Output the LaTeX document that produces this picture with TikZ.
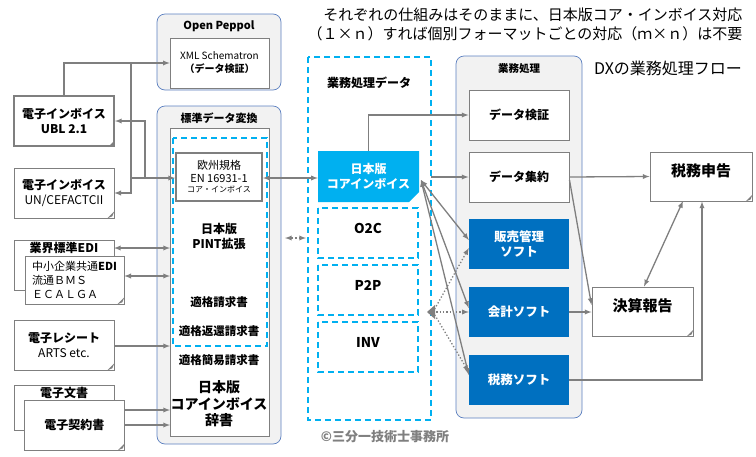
\documentclass[tikz,border=0pt]{standalone}
\usepackage{fontspec}
\setmainfont{Noto Sans CJK JP}
\usetikzlibrary{calc}
\definecolor{cyanbox}{HTML}{00B0F0}
\definecolor{bluebox}{HTML}{0070C0}
\definecolor{arrowgray}{HTML}{7F7F7F}
\definecolor{groupfill}{HTML}{F2F2F2}
\definecolor{groupline}{HTML}{5B7FC0}
\tikzset{
  group/.style={draw=groupline,fill=groupfill,rounded corners=8pt,line width=0.7pt},
  plain/.style={draw=arrowgray,fill=white,line width=1pt,minimum width=100pt,minimum height=50pt,inner sep=1pt,align=center,font=\bfseries\fontsize{12}{15}\selectfont},
  doc/.style={plain,line width=0.6pt},
  soft/.style={fill=bluebox,text=white,minimum width=100pt,minimum height=50pt,align=center,font=\bfseries\fontsize{12.5}{15}\selectfont},
  dbox/.style={draw=cyanbox,dashed,line width=1.3pt,dash pattern=on 6pt off 4pt},
  link/.style={draw=arrowgray,line width=1.3pt,-latex},
  both/.style={link,latex-latex},
  dots/.style={draw=arrowgray,line width=1.3pt,dotted},
  lbl/.style={font=\bfseries\fontsize{12}{15}\selectfont,align=center,inner sep=0pt},
}
\newcommand\dogear[1]{\fill[arrowgray] ($(#1.south east)+(-7,0)$) -- ($(#1.south east)+(0,-7)$) -- ($(#1.south east)+(-2,-2)$) -- cycle;}
\begin{document}
\begin{tikzpicture}[x=1pt,y=-1pt]
\useasboundingbox (0,0) rectangle (756,456);

% groups
\draw[group] (157,14) rectangle (281,90);
\node[lbl,font=\bfseries\fontsize{11}{13}\selectfont] (peppolT) at (219,26) {Open Peppol};
\node[plain,line width=0.6pt,minimum width=99pt,minimum height=50pt,font=\fontsize{10}{13}\selectfont] (schema) at (219.5,63) {XML Schematron\\\textbf{（データ検証）}};
\draw[group] (157,106) rectangle (281,444);
\node[lbl,font=\bfseries\fontsize{11}{13}\selectfont] (convT) at (219,118) {標準データ変換};
\draw[arrowgray,fill=white,line width=1pt] (170,128) rectangle (269,436);
\draw[dbox] (173,138) rectangle (267,346);
\node[plain,line width=2pt,minimum width=86pt,minimum height=48pt,font=\fontsize{11}{13}\selectfont] (eu) at (219,177) {欧州規格\\EN 16931-1\\[-3pt]{\fontsize{8}{9}\selectfont コア・インボイス}};
\node[lbl] (pint) at (219,236) {日本版\\PINT拡張};
\node[lbl,font=\bfseries\fontsize{11.5}{13}\selectfont] (tekikaku) at (219,302) {適格請求書};
\node[lbl,font=\bfseries\fontsize{11.5}{13}\selectfont] (henkan) at (219,331) {適格返還請求書};
\node[lbl,font=\bfseries\fontsize{11.5}{13}\selectfont] (kani) at (219,360) {適格簡易請求書};
\node[lbl,font=\bfseries\fontsize{14}{16.5}\selectfont] (jiten) at (219,404) {日本版\\コアインボイス\\辞書};

% left documents
\node[plain,line width=2pt] (ubl) at (64,121) {電子インボイス\\UBL 2.1};
\dogear{ubl}
\node[doc] (cefact) at (64,193) {電子インボイス\\\textmd{UN/CEFACTCII}};
\dogear{cefact}
\node[doc,anchor=north] (edi) at (64,240) {};
\node[lbl] (ediT) at (64,248) {業界標準EDI};
\node[doc,minimum width=99pt,minimum height=48pt,align=left,font=\fontsize{11}{14}\selectfont] (sme) at (74.5,280) {中小企業共通\textbf{EDI}\\流通ＢＭＳ\\ＥＣＡＬＧＡ};
\dogear{sme}
\node[doc] (receipt) at (64,345) {電子レシート\\\textmd{ARTS etc.}};
\dogear{receipt}
\node[doc,minimum height=45pt,anchor=north] (bunsho) at (64,385) {};
\node[lbl] (bunshoT) at (64,393) {電子文書};
\node[doc] (keiyaku) at (74.5,425) {電子契約書};
\dogear{keiyaku}

% left connectors
\coordinate (pj) at (131,64);
\coordinate (ej) at (145,178);
\draw[link] (ubl.north) |- (schema.west);
\draw[link] (pj) -- (131,193) -- (cefact.east |- 0,193);
\draw[link] (ej) -- (145,121) -- (ubl.east |- 0,121);
\draw[link] (131,178) -- (eu.west |- 0,178);
\draw[both] (114,248) -- (170,248);
\draw[both] (sme.east |- 0,276) -- (170,276);
\draw[link] (receipt.east |- 0,346) -- (170,346);
\draw[link] (keiyaku.east |- 0,410) -- (170,410);
\draw[link] (keiyaku.east |- 0,425) -- (170,425);

% middle data
\draw[dbox] (308,57) rectangle (431,420);
\node[lbl] (dataT) at (369,83) {業務処理データ};
\fill[cyanbox] (318,151) -- (419,151) -- (419,192) -- (409,202) -- (318,202) -- cycle;
\node[lbl,text=white,minimum width=101pt,minimum height=51pt] (core) at (368.5,176.5) {日本版\\コアインボイス};
\draw[dbox,line width=1.1pt] (318,208) rectangle (418,258);
\node[lbl,font=\bfseries\fontsize{13.5}{15}\selectfont] (o2c) at (368,228) {O2C};
\draw[dbox,line width=1.1pt] (318,265) rectangle (418,315);
\node[lbl,font=\bfseries\fontsize{13.5}{15}\selectfont] (p2p) at (368,285) {P2P};
\draw[dbox,line width=1.1pt] (318,322) rectangle (418,372);
\node[lbl,font=\bfseries\fontsize{13.5}{15}\selectfont] (inv) at (368,342) {INV};
\draw[both] (eu.east |- 0,178) -- (core.west |- 0,178);
\draw[dots,latex-latex,dash pattern=on 2pt off 2pt] (285,238) -- (306,238);

% business processing
\draw[group] (456,56) rectangle (582,418);
\node[lbl,font=\bfseries\fontsize{10.5}{12}\selectfont] (procT) at (519,69) {業務処理};
\node[plain] (check) at (519,115) {データ検証};
\node[plain] (agg) at (519,177) {データ集約};
\node[soft] (sales) at (519,244) {販売管理\\ソフト};
\node[soft] (acct) at (519,312) {会計ソフト};
\node[soft] (taxsw) at (519,380) {税務ソフト};
\node[plain,font=\bfseries\fontsize{15}{17}\selectfont,minimum width=102pt,minimum height=49pt,text depth=12pt] (filing) at (701,176.5) {税務申告};
\dogear{filing}
\node[plain,font=\bfseries\fontsize{15}{17}\selectfont,minimum width=101pt,minimum height=49pt,text depth=12pt] (report) at (642.5,311.5) {決算報告};
\dogear{report}

% right connectors
\coordinate (cj) at (421,180);
\coordinate (dj) at (433,312);
\draw[link] (core.north) |- (check.west);
\draw[link] (431,177) -- (agg.west);
\draw[both] (cj) -- (sales.west |- 0,240);
\draw[both] (cj) -- (acct.west |- 0,308);
\draw[both] (cj) -- (taxsw.west |- 0,375);
\draw[dots,-latex] (dj) -- (sales.west |- 0,248);
\draw[dots,-latex] (dj) -- (acct.west);
\draw[dots,-latex] (dj) -- (taxsw.west |- 0,372);
\fill[arrowgray] (dj) ++(-6,0) -- ++(8,-7) -- ++(0,14) -- cycle;
\draw[link] (agg.east) -- (filing.west);
\draw[link] (agg.east |- 0,180) -- (report.west |- 0,305);
\draw[link] (acct.east) -- (report.west |- 0,312);
\draw[link] (taxsw.east) -- (702,380) -- (filing.south -| 702,0);
\draw[both] (report.north -| 644,0) -- (683,201);

% texts
\node[font=\fontsize{15}{19}\selectfont,align=right,inner sep=0pt] (note) at (525,24) {それぞれの仕組みはそのままに、日本版コア・インボイス対応\\（１×ｎ）すれば個別フォーマットごとの対応（ｍ×ｎ）は不要};
\node[font=\fontsize{16}{18}\selectfont,inner sep=0pt] (dxT) at (668,68) {DXの業務処理フロー};
\node[font=\bfseries\fontsize{13}{15}\selectfont,text=arrowgray,inner sep=0pt] (copy) at (385,437) {©三分一技術士事務所};
\end{tikzpicture}
\end{document}
